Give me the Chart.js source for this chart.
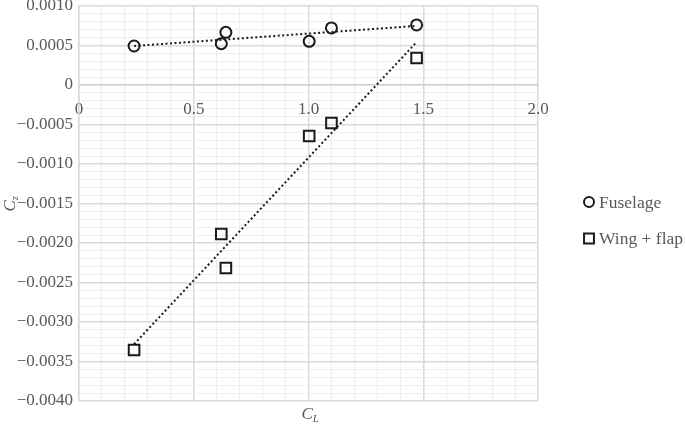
<!DOCTYPE html>
<html>
<head>
<meta charset="utf-8">
<script src="https://cdn.jsdelivr.net/npm/chart.js@4/dist/chart.umd.min.js"></script>
<style>
  html, body { margin: 0; padding: 0; background: #fff; }
  #wrap { width: 685px; height: 424px; }
</style>
</head>
<body>
<div id="wrap"><canvas id="grafik"></canvas></div>
<script>
// values
const cl = [0.24, 0.62, 0.64, 1.003, 1.10, 1.471];
const fuselage = [0.000494, 0.000523, 0.000667, 0.000553, 0.000722, 0.00076];
const wingFlap = [-0.003354, -0.001886, -0.002316, -0.000646, -0.000481, 0.000342];
// dotted trend lines, end points
const trendX = [0.24, 1.47];
const fuselageTrend = [0.000494, 0.000748];
const wingFlapTrend = [-0.00328, 0.00054];
const seriesNames = ['Fuselage', 'Wing + flap'];

const font = 'Liberation Serif';
const grey = '#595959';
const ink = '#1a1a1a';

function pts(xs, ys) {
    return xs.map((x, i) => ({ x: x, y: ys[i] }));
}

function isMulti(v, step) {
    const r = Math.round(v / step * 1000) / 1000;
    return Math.abs(r - Math.round(r)) < 1e-6;
}

// axis titles with subscripts + legend on the right
const extras = {
    id: 'extras',
    afterDraw(chart) {
        const ctx = chart.ctx;
        const a = chart.chartArea;
        ctx.save();
        ctx.fillStyle = grey;
        ctx.textBaseline = 'alphabetic';
        ctx.textAlign = 'left';
        // C_L
        let cx = (a.left + a.right) / 2 - 7;
        ctx.font = 'italic 17px ' + font;
        ctx.fillText('C', cx, 419);
        let w = ctx.measureText('C').width;
        ctx.font = 'italic 11px ' + font;
        ctx.fillText('L', cx + w, 422);
        // C_z rotated
        ctx.save();
        ctx.translate(15, (a.top + a.bottom) / 2 + 8);
        ctx.rotate(-Math.PI / 2);
        ctx.font = 'italic 17px ' + font;
        ctx.fillText('C', 0, 0);
        w = ctx.measureText('C').width;
        ctx.font = 'italic 11px ' + font;
        ctx.fillText('z', w, 3);
        ctx.restore();

        // legend
        const lx = 589;
        const ly = [202, 238.5];
        const styles = ['circle', 'rect'];
        const radii = [5, 7];
        chart.data.datasets.filter(d => seriesNames.includes(d.label)).forEach((d, i) => {
            ctx.strokeStyle = ink;
            ctx.lineWidth = 2;
            ctx.fillStyle = 'rgba(0,0,0,0)';
            Chart.helpers.drawPoint(ctx, { pointStyle: styles[i], radius: radii[i], borderWidth: 2 }, lx, ly[i]);
            ctx.fillStyle = grey;
            ctx.font = '17.5px ' + font;
            ctx.textBaseline = 'middle';
            ctx.fillText(d.label, lx + 10, ly[i] + 1);
        });
        ctx.restore();
    }
};

new Chart(document.getElementById('grafik'), {
    type: 'scatter',
    data: {
        datasets: [{
                label: seriesNames[0],
                data: pts(cl, fuselage),
                pointStyle: 'circle',
                pointRadius: 5.5,
                pointBorderWidth: 2,
                borderColor: ink,
                backgroundColor: 'rgba(0,0,0,0)',
                order: 1
            },
            {
                label: seriesNames[1],
                data: pts(cl, wingFlap),
                pointStyle: 'rect',
                pointRadius: 7.5,
                pointBorderWidth: 2,
                borderColor: ink,
                backgroundColor: 'rgba(0,0,0,0)',
                order: 1
            },
            {
                type: 'line',
                label: 'trend1',
                data: pts(trendX, fuselageTrend),
                borderColor: ink,
                borderWidth: 2,
                borderDash: [2, 2.5],
                pointRadius: 0,
                fill: false,
                order: 2
            },
            {
                type: 'line',
                label: 'trend2',
                data: pts(trendX, wingFlapTrend),
                borderColor: ink,
                borderWidth: 2,
                borderDash: [2, 2.5],
                pointRadius: 0,
                fill: false,
                order: 2
            }
        ]
    },
    options: {
        responsive: true,
        maintainAspectRatio: false,
        animation: false,
        layout: {
            autoPadding: false,
            padding: { left: 17, top: 6, bottom: 23, right: 147 }
        },
        plugins: {
            tooltip: { enabled: false },
            legend: { display: false }
        },
        scales: {
            x: {
                type: 'linear',
                position: { y: 0 },
                min: 0,
                max: 2,
                afterFit: s => { s.paddingLeft = 0; s.paddingRight = 0; },
                ticks: {
                    stepSize: 0.1,
                    autoSkip: false,
                    maxRotation: 0,
                    padding: 14,
                    color: grey,
                    font: { family: font, size: 17 },
                    callback: v => isMulti(v, 0.5) ? (v === 0 ? '0' : v.toFixed(1)) : ''
                },
                grid: {
                    drawTicks: false,
                    color: ctx => isMulti(ctx.tick.value, 0.5) ? '#d9d9d9' : '#eeeeee',
                    lineWidth: ctx => isMulti(ctx.tick.value, 0.5) ? 1.5 : 1
                },
                border: { color: '#d0d0d0', width: 1.5 }
            },
            y: {
                min: -0.004,
                max: 0.001,
                afterFit: s => { s.width = 62; s.paddingTop = 0; s.paddingBottom = 0; },
                ticks: {
                    stepSize: 0.0001,
                    autoSkip: false,
                    padding: 6,
                    color: grey,
                    font: { family: font, size: 17 },
                    callback: v => {
                        if (!isMulti(v, 0.0005)) return '';
                        if (Math.abs(v) < 1e-9) return '0';
                        return v < 0 ? '\u2212' + Math.abs(v).toFixed(4) : v.toFixed(4);
                    }
                },
                grid: {
                    drawTicks: false,
                    color: ctx => isMulti(ctx.tick.value, 0.0005) ? '#d9d9d9' : '#eeeeee',
                    lineWidth: ctx => isMulti(ctx.tick.value, 0.0005) ? 1.5 : 1
                },
                border: { color: '#d9d9d9', width: 1.5 }
            }
        }
    },
    plugins: [extras]
});
</script>
</body>
</html>
